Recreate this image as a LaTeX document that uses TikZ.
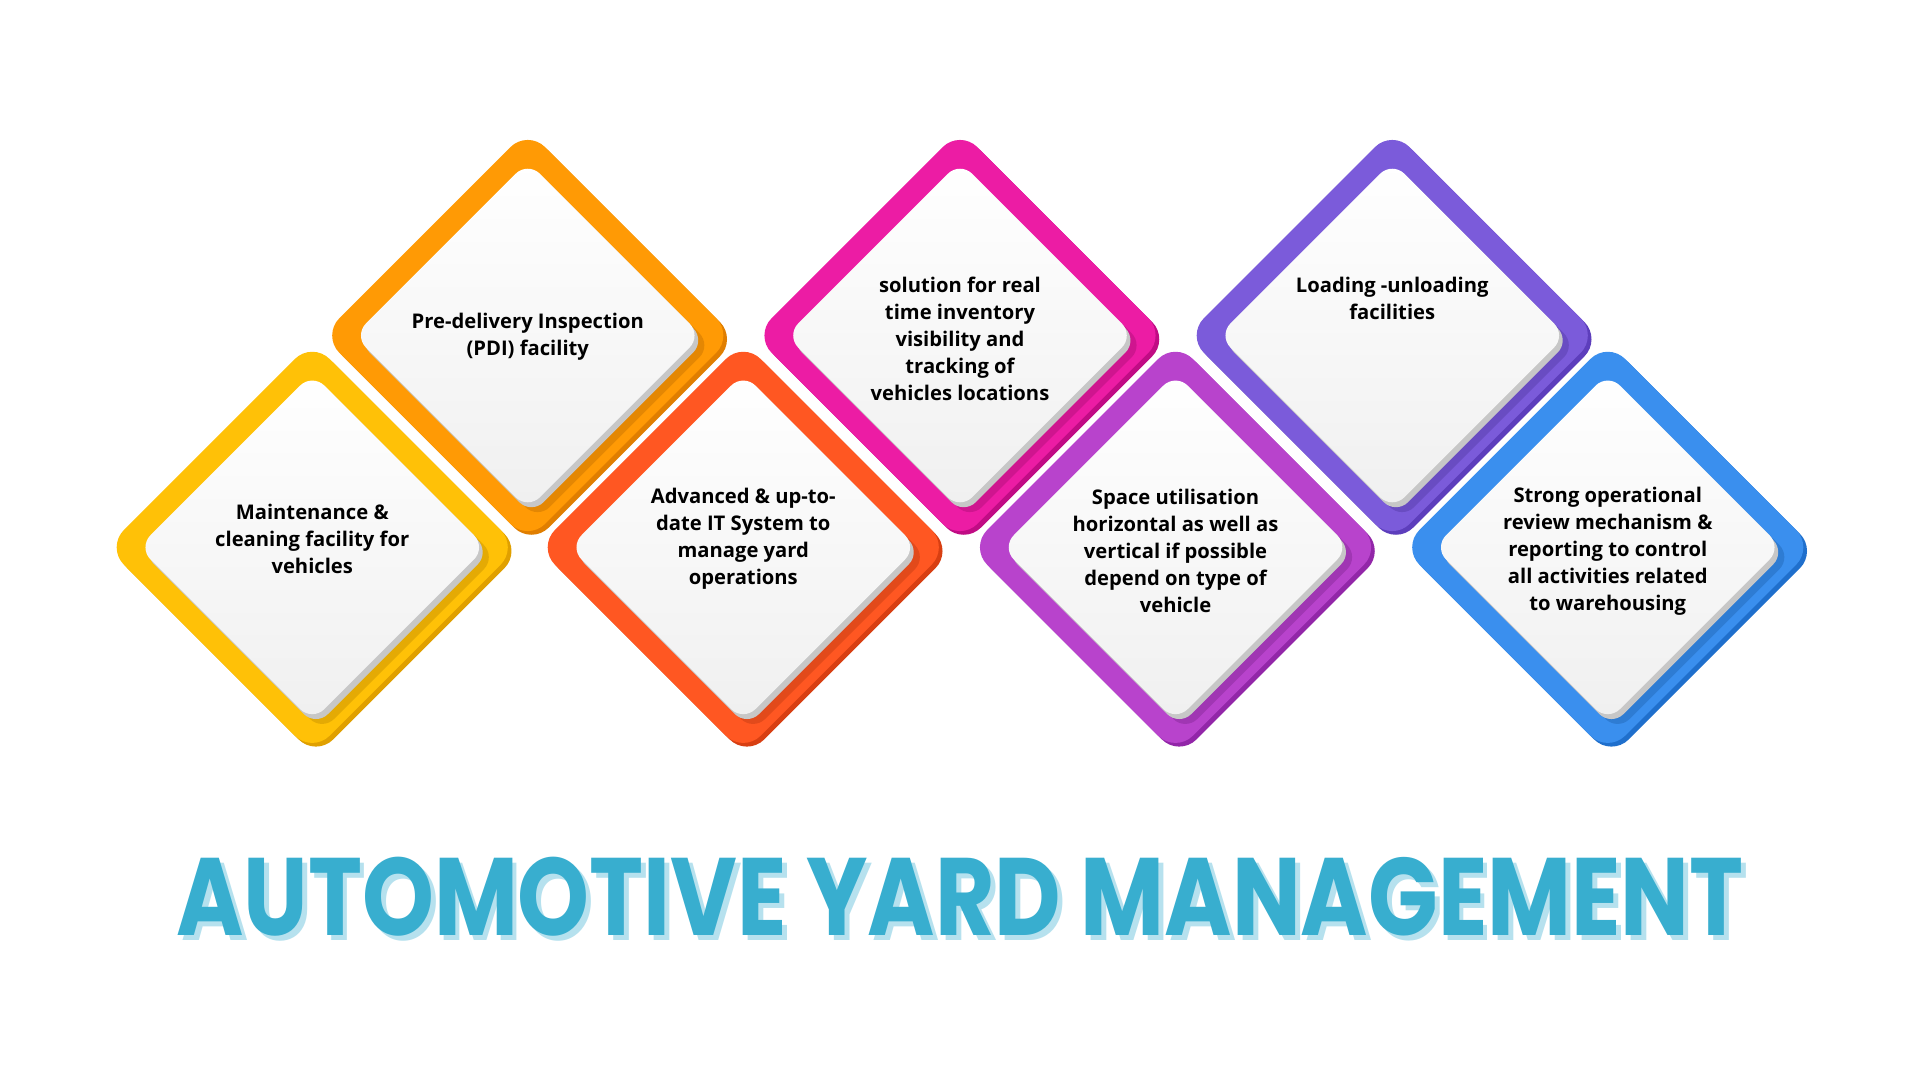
\documentclass[tikz,border=0pt]{standalone}
\usepackage{fontspec}
\setmainfont{Open Sans}
\newfontfamily\titlefont{Poppins Bold}
\usetikzlibrary{calc}
\definecolor{cY}{HTML}{FFC107}\definecolor{cYd}{HTML}{E0A000}
\definecolor{cO}{HTML}{FF9A05}\definecolor{cOd}{HTML}{E07E00}
\definecolor{cR}{HTML}{FF5722}\definecolor{cRd}{HTML}{D83F12}
\definecolor{cM}{HTML}{EC1CA4}\definecolor{cMd}{HTML}{C00C84}
\definecolor{cP}{HTML}{B843CC}\definecolor{cPd}{HTML}{9226A8}
\definecolor{cV}{HTML}{7B5BDA}\definecolor{cVd}{HTML}{5D3EBC}
\definecolor{cB}{HTML}{3A8FEE}\definecolor{cBd}{HTML}{1F6FCC}
\definecolor{ttl}{HTML}{38AECF}\definecolor{ttls}{HTML}{B6E1EE}
\tikzset{lbl/.style={align=center,font=\fontsize{16.5pt}{22pt}\selectfont\bfseries,text=black}}
\newcommand\dmdpath[3]{(#1,#2-#3) -- (#1+#3,#2) -- (#1,#2+#3) -- (#1-#3,#2) -- cycle}
\newcommand\dmd[7]{%
 \fill[#4,rounded corners=20pt] \dmdpath{#1+3}{#2+3}{168};
 \fill[#3,rounded corners=20pt] \dmdpath{#1}{#2}{168};
 \fill[#4!80!black,opacity=.35,rounded corners=14pt] \dmdpath{#1+8}{#2+8}{142};
 \fill[black!22,rounded corners=14pt] \dmdpath{#1+3}{#2+4}{142};
 \shade[top color=white,bottom color=black!6,rounded corners=14pt] \dmdpath{#1}{#2}{142};
 \node[lbl] (#5) at (#1,#2+#7) {#6};}
\begin{document}
\begin{tikzpicture}[x=1pt,y=-1pt]
\useasboundingbox (0,0) rectangle (1568,880);
\fill[white] (0,0) rectangle (1568,880);
\dmd{255}{447}{cY}{cYd}{d1}{Maintenance \&\\cleaning facility for\\vehicles}{-7}
\dmd{431}{274}{cO}{cOd}{d2}{Pre-delivery Inspection\\(PDI) facility}{1}
\dmd{607}{447}{cR}{cRd}{d3}{Advanced \& up-to-\\date IT System to\\manage yard\\operations}{-7}
\dmd{784}{274}{cM}{cMd}{d4}{solution for real\\time inventory\\visibility and\\tracking of\\vehicles locations}{3}
\dmd{960}{447}{cP}{cPd}{d5}{Space utilisation\\horizontal as well as\\vertical if possible\\depend on type of\\vehicle}{3}
\dmd{1137}{274}{cV}{cVd}{d6}{Loading -unloading\\facilities}{-30}
\dmd{1313}{447}{cB}{cBd}{d7}{Strong operational\\review mechanism \&\\reporting to control\\all activities related\\to warehousing}{3}
\node[text=ttls] at (788,736) {\resizebox{1280pt}{64pt}{\titlefont AUTOMOTIVE YARD MANAGEMENT}};
\node[text=ttl] (title) at (784,732) {\resizebox{1280pt}{64pt}{\titlefont AUTOMOTIVE YARD MANAGEMENT}};
\end{tikzpicture}
\end{document}
